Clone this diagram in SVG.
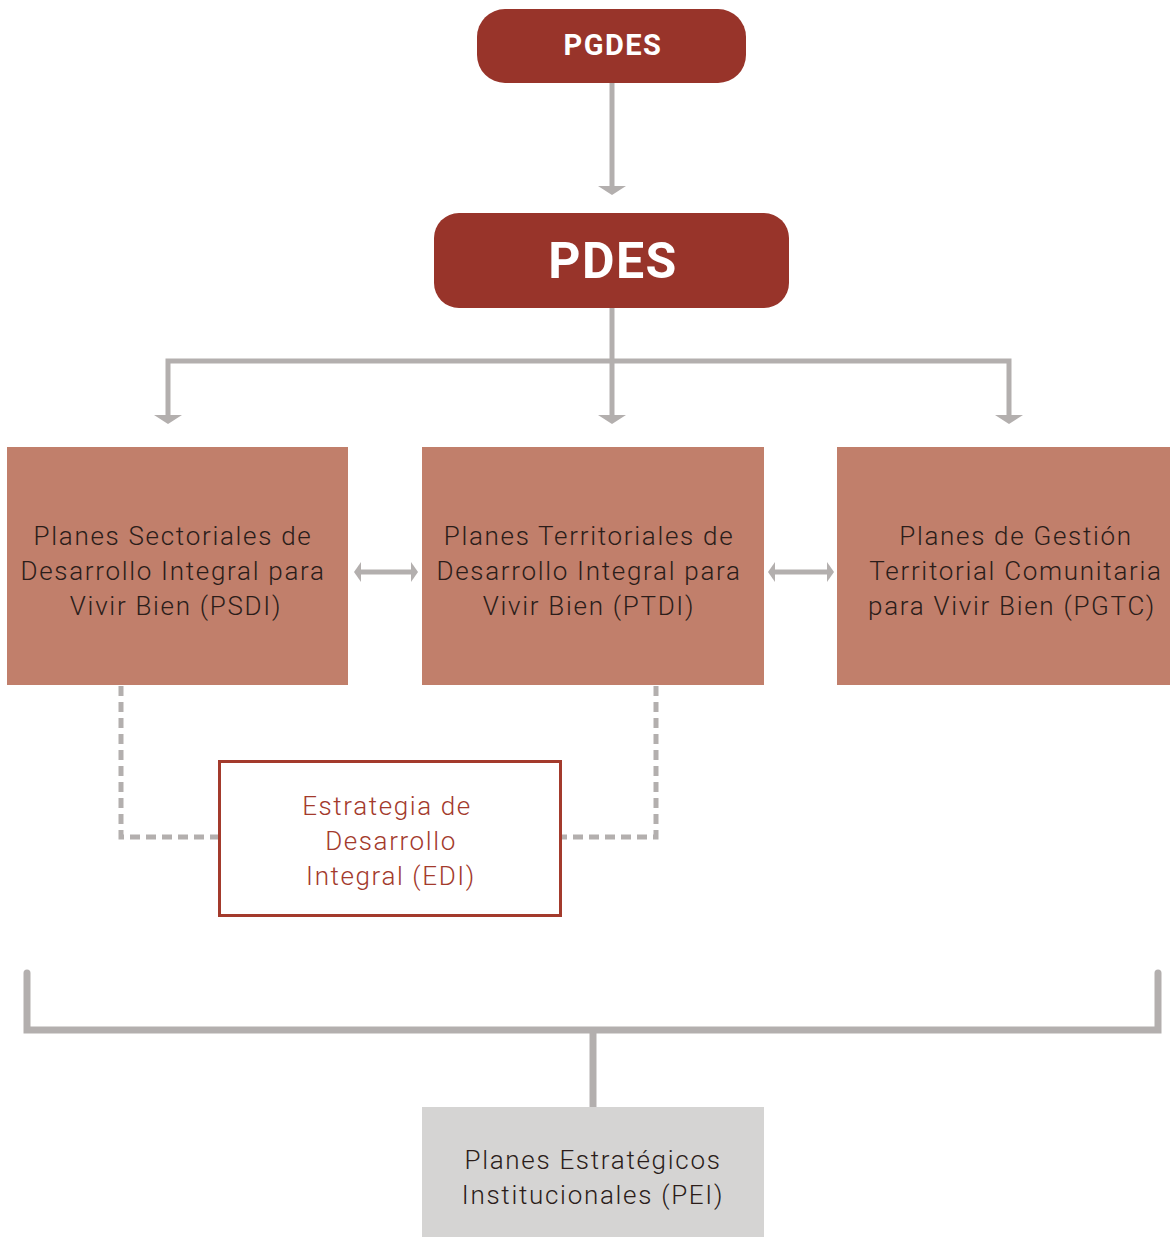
<svg xmlns="http://www.w3.org/2000/svg" width="1170" height="1237" viewBox="0 0 1170 1237">
<style>
.hdr{fill:#98342a}
.hdrt{fill:#fff;font-family:Roboto,"Liberation Sans",sans-serif;font-weight:bold;text-anchor:middle;letter-spacing:1.5px}
.box{fill:#c17f6b}
.bt{fill:#2b1d1a;font-family:Roboto,"Liberation Sans",sans-serif;font-weight:300;font-size:26px;text-anchor:middle;letter-spacing:1.7px}
.et{fill:#a33a2c;font-family:Roboto,"Liberation Sans",sans-serif;font-weight:300;font-size:26px;text-anchor:middle;letter-spacing:1.6px}
.ln{stroke:#b3afae;stroke-width:5;fill:none}
.dash{stroke:#b3afae;stroke-width:5;fill:none;stroke-dasharray:10 6}
.br{stroke:#b3afae;stroke-width:7;fill:none}
.ah{fill:#b3afae}
</style>
<g id="connectors">
<line class="ln" x1="612" y1="83" x2="612" y2="188"/>
<polygon class="ah" points="598,186 626,186 612,195"/>
<line class="ln" x1="612" y1="308" x2="612" y2="416"/>
<polygon class="ah" points="598,415 626,415 612,424"/>
<polyline class="ln" points="168,416 168,361 1009,361 1009,416"/>
<polygon class="ah" points="154,415 182,415 168,424"/>
<polygon class="ah" points="995,415 1023,415 1009,424"/>
<line class="ln" x1="360" y1="572" x2="412" y2="572"/>
<polygon class="ah" points="354,572 361,562 361,582"/>
<polygon class="ah" points="418,572 411,562 411,582"/>
<line class="ln" x1="774" y1="572" x2="828" y2="572"/>
<polygon class="ah" points="768,572 775,562 775,582"/>
<polygon class="ah" points="834,572 827,562 827,582"/>
<polyline class="dash" points="121,686 121,837 219,837"/>
<polyline class="dash" points="656,686 656,837 561,837"/>
<polyline class="br" points="27,973 27,1030 1158,1030 1158,973" stroke-linecap="round"/>
<line class="br" x1="593" y1="1030" x2="593" y2="1108"/>
</g>
<g id="pgdes">
<rect class="hdr" x="477" y="9" width="269" height="74" rx="28"/>
<text class="hdrt" x="613" y="55" font-size="29">PGDES</text>
</g>
<g id="pdes">
<rect class="hdr" x="434" y="213" width="355" height="95" rx="25"/>
<text class="hdrt" x="613" y="278" font-size="50">PDES</text>
</g>
<g id="psdi">
<rect class="box" x="7" y="447" width="341" height="238"/>
<text class="bt" x="173" y="545">Planes Sectoriales de</text>
<text class="bt" x="173" y="580">Desarrollo Integral para</text>
<text class="bt" x="176" y="615">Vivir Bien (PSDI)</text>
</g>
<g id="ptdi">
<rect class="box" x="422" y="447" width="342" height="238"/>
<text class="bt" x="589" y="545">Planes Territoriales de</text>
<text class="bt" x="589" y="580">Desarrollo Integral para</text>
<text class="bt" x="589" y="615">Vivir Bien (PTDI)</text>
</g>
<g id="pgtc">
<rect class="box" x="837" y="447" width="333" height="238"/>
<text class="bt" x="1016" y="545">Planes de Gestión</text>
<text class="bt" x="1016" y="580">Territorial Comunitaria</text>
<text class="bt" x="1012" y="615">para Vivir Bien (PGTC)</text>
</g>
<g id="edi">
<rect x="219.5" y="761.5" width="341" height="154" fill="#fff" stroke="#a33a2c" stroke-width="3"/>
<text class="et" x="387" y="815">Estrategia de</text>
<text class="et" x="391" y="850">Desarrollo</text>
<text class="et" x="391" y="885">Integral (EDI)</text>
</g>
<g id="pei">
<rect x="422" y="1107" width="342" height="130" fill="#d5d4d3"/>
<text class="bt" x="593" y="1169">Planes Estratégicos</text>
<text class="bt" x="593" y="1204">Institucionales (PEI)</text>
</g>
</svg>
